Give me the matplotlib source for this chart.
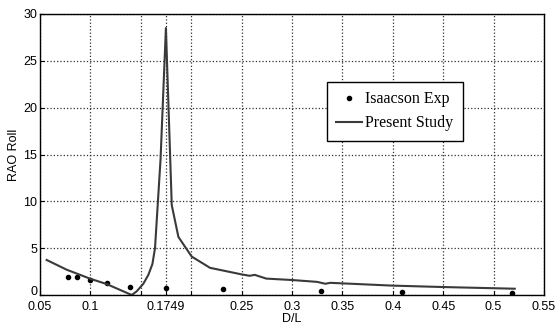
import matplotlib
matplotlib.use('Agg')
import matplotlib.pyplot as plt
import matplotlib.transforms as mtransforms

# Present Study (numerical) curve
study_x = [0.0566, 0.0765, 0.1, 0.1161, 0.141, 0.146, 0.1525, 0.1575, 0.1615, 0.1641,
           0.1696, 0.1749, 0.1792, 0.1807, 0.1873, 0.2005, 0.2187, 0.25, 0.258,
           0.263, 0.2745, 0.3, 0.325, 0.333, 0.338, 0.4, 0.45, 0.521]
study_y = [3.74, 2.7, 1.73, 1.17, 0.0, 0.4, 1.2, 2.15, 3.3, 5.0,
           14.5, 28.5, 14.5, 9.6, 6.2, 4.1, 2.9, 2.2, 2.05,
           2.15, 1.75, 1.6, 1.4, 1.2, 1.3, 1.0, 0.85, 0.67]

# Isaacson experimental points
exp_x = [0.0781, 0.087, 0.1, 0.1161, 0.1389, 0.1748, 0.2319, 0.329, 0.409, 0.5187]
exp_y = [1.87, 1.87, 1.55, 1.23, 0.81, 0.74, 0.63, 0.46, 0.35, 0.25]

xticks = [0.05, 0.1, 0.15, 0.1749, 0.2, 0.25, 0.3, 0.35, 0.4, 0.45, 0.5, 0.55]
xticklabels = ['0.05', '0.1', '', '0.1749', '', '0.25', '0.3', '0.35', '0.4', '0.45', '0.5', '0.55']
yticks = [0, 5, 10, 15, 20, 25, 30]

plt.rcParams['font.family'] = ['Liberation Sans', 'DejaVu Sans']

fig = plt.figure(figsize=(5.55, 3.24), dpi=100)
ax = fig.add_axes([40/555, 29/324, 504/555, 281/324])

ax.plot(exp_x, exp_y, 'k.', markersize=6, label='Isaacson Exp')
ax.plot(study_x, study_y, '-', color='#3a3a3a', linewidth=1.5, label='Present Study')

ax.set_xlim(0.05, 0.55)
ax.set_ylim(0, 30)
ax.set_xticks(xticks)
ax.set_xticklabels(xticklabels)
ax.set_yticks(yticks)
ax.tick_params(direction='in', labelsize=9, length=3, pad=2)
ax.tick_params(axis='x', pad=4)
ax.grid(True, linestyle=':', color='#303030', linewidth=0.9)
for s in ax.spines.values():
    s.set_linewidth(1.0)

# nudge the "0" y label up a little so it doesn't collide with "0.05"
lab0 = ax.get_yticklabels()[0]
lab0.set_transform(lab0.get_transform() +
                   mtransforms.ScaledTranslation(0, 3/72, fig.dpi_scale_trans))

ax.set_xlabel('D/L', fontsize=9, labelpad=0)
ax.set_ylabel('RAO Roll', fontsize=9, labelpad=2)

leg = ax.legend(loc='upper left', bbox_to_anchor=(0.553, 0.788), fancybox=False,
                framealpha=1, edgecolor='black', handlelength=1.6, handletextpad=0.2,
                borderpad=0.6, labelspacing=0.5,
                prop={'family': 'Liberation Serif', 'size': 11.5})
leg.get_frame().set_linewidth(1.0)

plt.savefig('out.png', dpi=100)
